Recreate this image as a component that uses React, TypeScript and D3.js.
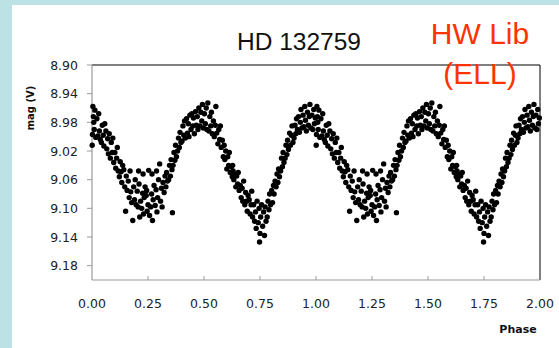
import React from "react";
import * as d3 from "d3";

// Folded photometry (phase 0–1); plotted twice (phase and phase + 1)
const PHASE = [
  0.001, 0.002, 0.004, 0.006, 0.008, 0.010, 0.013, 0.017,
  0.022, 0.026, 0.030, 0.033, 0.037,
  0.042, 0.046, 0.050, 0.053, 0.057,
  0.062, 0.066, 0.070, 0.073, 0.077,
  0.082, 0.086, 0.090, 0.093, 0.097,
  0.102, 0.106, 0.110, 0.113, 0.117,
  0.122, 0.126, 0.130, 0.133, 0.137,
  0.142, 0.146, 0.150, 0.153, 0.157,
  0.162, 0.166, 0.170, 0.173, 0.177,
  0.182, 0.186, 0.190, 0.193, 0.197,
  0.202, 0.206, 0.208, 0.210, 0.213, 0.217,
  0.222, 0.226, 0.228, 0.230, 0.233, 0.237,
  0.242, 0.244, 0.246, 0.250, 0.253, 0.257,
  0.262, 0.266, 0.268, 0.270, 0.273, 0.277,
  0.282, 0.286, 0.288, 0.290, 0.293, 0.297,
  0.302, 0.306, 0.310, 0.313, 0.317,
  0.322, 0.326, 0.330, 0.333, 0.337,
  0.342, 0.346, 0.350, 0.353, 0.357, 0.359,
  0.362, 0.366, 0.370, 0.373, 0.377,
  0.382, 0.386, 0.390, 0.393, 0.397,
  0.402, 0.406, 0.410, 0.413, 0.417,
  0.422, 0.426, 0.430, 0.433, 0.437,
  0.442, 0.446, 0.450, 0.453, 0.457,
  0.462, 0.466, 0.470, 0.473, 0.477,
  0.482, 0.486, 0.490, 0.493, 0.497,
  0.502, 0.506, 0.510, 0.513, 0.517,
  0.522, 0.526, 0.530, 0.533, 0.537,
  0.542, 0.546, 0.550, 0.553, 0.557,
  0.562, 0.566, 0.570, 0.573, 0.577,
  0.582, 0.586, 0.590, 0.593, 0.597,
  0.602, 0.606, 0.610, 0.613, 0.617,
  0.622, 0.626, 0.628, 0.630, 0.633, 0.637,
  0.642, 0.646, 0.650, 0.653, 0.657,
  0.662, 0.666, 0.670, 0.673, 0.677,
  0.682, 0.686, 0.690, 0.693, 0.697,
  0.702, 0.706, 0.710, 0.713, 0.717,
  0.722, 0.726, 0.730, 0.733, 0.737,
  0.742, 0.746, 0.748, 0.750, 0.753, 0.757,
  0.762, 0.766, 0.770, 0.773, 0.777,
  0.782, 0.786, 0.790, 0.793, 0.797,
  0.802, 0.806, 0.810, 0.813, 0.817,
  0.822, 0.826, 0.830, 0.833, 0.837,
  0.842, 0.846, 0.850, 0.853, 0.857,
  0.862, 0.866, 0.870, 0.873, 0.877,
  0.882, 0.886, 0.890, 0.893, 0.897,
  0.902, 0.906, 0.910, 0.913, 0.917,
  0.922, 0.926, 0.930, 0.933, 0.937,
  0.942, 0.946, 0.950, 0.953, 0.957,
  0.962, 0.966, 0.970, 0.973, 0.977,
  0.982, 0.986, 0.990, 0.993, 0.997,
];

const MAG = [
  9.012, 8.997, 8.958, 8.972, 8.980, 8.990, 8.963, 9.001,
  8.975, 8.999, 8.968, 8.992, 9.004,
  9.008, 8.984, 8.998, 9.013, 8.982,
  8.992, 9.017, 9.003, 9.024, 8.996,
  9.030, 9.008, 9.022, 9.002, 9.036,
  9.022, 9.044, 9.030, 9.015, 9.048,
  9.056, 9.035, 9.049, 9.064, 9.040,
  9.046, 9.070, 9.104, 9.055, 9.075,
  9.062, 9.085, 9.048, 9.077, 9.092,
  9.117, 9.070, 9.088, 9.060, 9.095,
  9.076, 9.098, 9.048, 9.066, 9.112, 9.090,
  9.100, 9.079, 9.052, 9.108, 9.085, 9.070,
  9.082, 9.075, 9.104, 9.095, 9.047, 9.110,
  9.098, 9.080, 9.052, 9.117, 9.088, 9.068,
  9.096, 9.074, 9.048, 9.105, 9.085, 9.060,
  9.038, 9.090, 9.072, 9.098, 9.064,
  9.078, 9.055, 9.070, 9.050, 9.062,
  9.060, 9.040, 9.055, 9.032, 9.046, 9.106,
  9.040, 9.022, 9.033, 9.012, 9.028,
  9.020, 9.002, 9.015, 8.994, 9.008,
  9.006, 8.985, 8.998, 8.978, 9.002,
  8.975, 8.995, 8.982, 9.000, 8.970,
  8.990, 8.968, 8.985, 8.974, 8.996,
  8.965, 8.984, 8.972, 8.990, 8.960,
  8.985, 8.966, 8.978, 8.955, 8.988,
  8.968, 8.982, 8.960, 8.990, 8.953,
  8.992, 8.972, 8.985, 8.966, 8.996,
  8.978, 9.000, 8.984, 8.958, 8.995,
  9.010, 8.990, 9.004, 8.985, 9.015,
  9.005, 9.028, 9.012, 9.032, 9.020,
  9.045, 9.028, 9.040, 9.022, 9.050,
  9.042, 9.056, 9.040, 9.048, 9.060, 9.052,
  9.070, 9.055, 9.066, 9.050, 9.075,
  9.068, 9.085, 9.072, 9.090, 9.062,
  9.095, 9.078, 9.090, 9.104, 9.082,
  9.088, 9.108, 9.095, 9.076, 9.112,
  9.095, 9.118, 9.105, 9.128, 9.090,
  9.120, 9.100, 9.147, 9.135, 9.112, 9.095,
  9.125, 9.105, 9.138, 9.098, 9.118,
  9.112, 9.090, 9.102, 9.080, 9.095,
  9.075, 9.092, 9.068, 9.080, 9.062,
  9.070, 9.052, 9.064, 9.045, 9.056,
  9.048, 9.030, 9.042, 9.022, 9.036,
  9.030, 9.012, 9.025, 9.005, 9.018,
  8.995, 9.012, 8.998, 8.985, 9.008,
  9.002, 8.984, 8.996, 8.975, 8.990,
  8.972, 8.994, 8.980, 8.962, 8.988,
  8.970, 8.986, 8.958, 8.977, 8.992,
  8.966, 8.984, 8.972, 8.955, 8.988,
  8.970, 8.990, 8.962, 8.982, 8.974,
];

const CYCLES = [0, 1];
const X_TICKS = [0, 0.25, 0.5, 0.75, 1.0, 1.25, 1.5, 1.75, 2.0];
const Y_TICKS = [8.9, 8.94, 8.98, 9.02, 9.06, 9.1, 9.14, 9.18];
const X_DOMAIN = [0, 2];
const Y_DOMAIN = [8.9, 9.2];
const TITLE = "HD 132759";
const NOTE_LINES = ["HW Lib", "(ELL)"];
const X_LABEL = "Phase";
const Y_LABEL = "mag (V)";

export default function App() {
  const W = 559;
  const H = 348;
  const left = 92;
  const right = 540;
  const top = 65;
  const bottom = 280;

  const x = d3.scaleLinear().domain(X_DOMAIN).range([left, right]);
  const y = d3.scaleLinear().domain(Y_DOMAIN).range([top, bottom]);
  const fmt = d3.format(".2f");

  const points = CYCLES.flatMap((c) =>
    PHASE.map((p, i) => ({ p: p + c, m: MAG[i] }))
  );

  const tickFont = "'DejaVu Sans', Verdana, sans-serif";
  const axisGray = "#9a9a9a";

  return (
    <svg
      width={W}
      height={H}
      style={{ position: "fixed", left: 0, top: 0, display: "block" }}
    >
      <rect x={0} y={0} width={W} height={H} fill="#bde2e6" />
      <rect x={12} y={5} width={W - 12} height={H - 5} fill="#ffffff" />

      <text
        x={299}
        y={50}
        textAnchor="middle"
        fontFamily="'Liberation Sans', Arial, sans-serif"
        fontSize={24.5}
        fill="#111"
      >
        {TITLE}
      </text>

      {/* plot frame: top & right black, left & bottom gray */}
      <line x1={left} x2={right} y1={top} y2={top} stroke="#000" strokeWidth={1} />
      <line x1={right} x2={right} y1={top} y2={bottom} stroke="#000" strokeWidth={1} />
      <line x1={left} x2={left} y1={top} y2={bottom} stroke={axisGray} strokeWidth={1.2} />
      <line x1={left} x2={right} y1={bottom} y2={bottom} stroke={axisGray} strokeWidth={1.2} />

      {Y_TICKS.map((t) => (
        <g key={"y" + t}>
          <line x1={left - 5} x2={left} y1={y(t)} y2={y(t)} stroke={axisGray} />
          <text
            x={78}
            y={y(t)}
            dy="0.36em"
            textAnchor="end"
            fontFamily={tickFont}
            fontSize={12.5}
            fill="#222"
          >
            {fmt(t)}
          </text>
        </g>
      ))}

      {X_TICKS.map((t) => (
        <g key={"x" + t}>
          {t > 0 && t < 2 && (
            <line x1={x(t)} x2={x(t)} y1={bottom} y2={bottom - 4} stroke={axisGray} />
          )}
          <text
            x={x(t)}
            y={308}
            textAnchor="middle"
            fontFamily={tickFont}
            fontSize={12.5}
            fill="#222"
          >
            {fmt(t)}
          </text>
        </g>
      ))}

      {points.map((d, i) => (
        <circle key={i} cx={x(d.p)} cy={y(d.m)} r={2.7} fill="#000" />
      ))}

      <text
        x={518}
        y={333}
        textAnchor="middle"
        fontFamily={tickFont}
        fontWeight="bold"
        fontSize={11}
        fill="#111"
      >
        {X_LABEL}
      </text>
      <text
        transform={`translate(34,108) rotate(-90)`}
        textAnchor="middle"
        fontFamily={tickFont}
        fontWeight="bold"
        fontSize={10}
        fill="#111"
      >
        {Y_LABEL}
      </text>

      {NOTE_LINES.map((s, i) => (
        <text
          key={s}
          x={480}
          y={43.5 + i * 40}
          textAnchor="middle"
          fontFamily="'Liberation Sans', Arial, sans-serif"
          fontSize={30}
          fill="#ff3300"
        >
          {s}
        </text>
      ))}
    </svg>
  );
}
